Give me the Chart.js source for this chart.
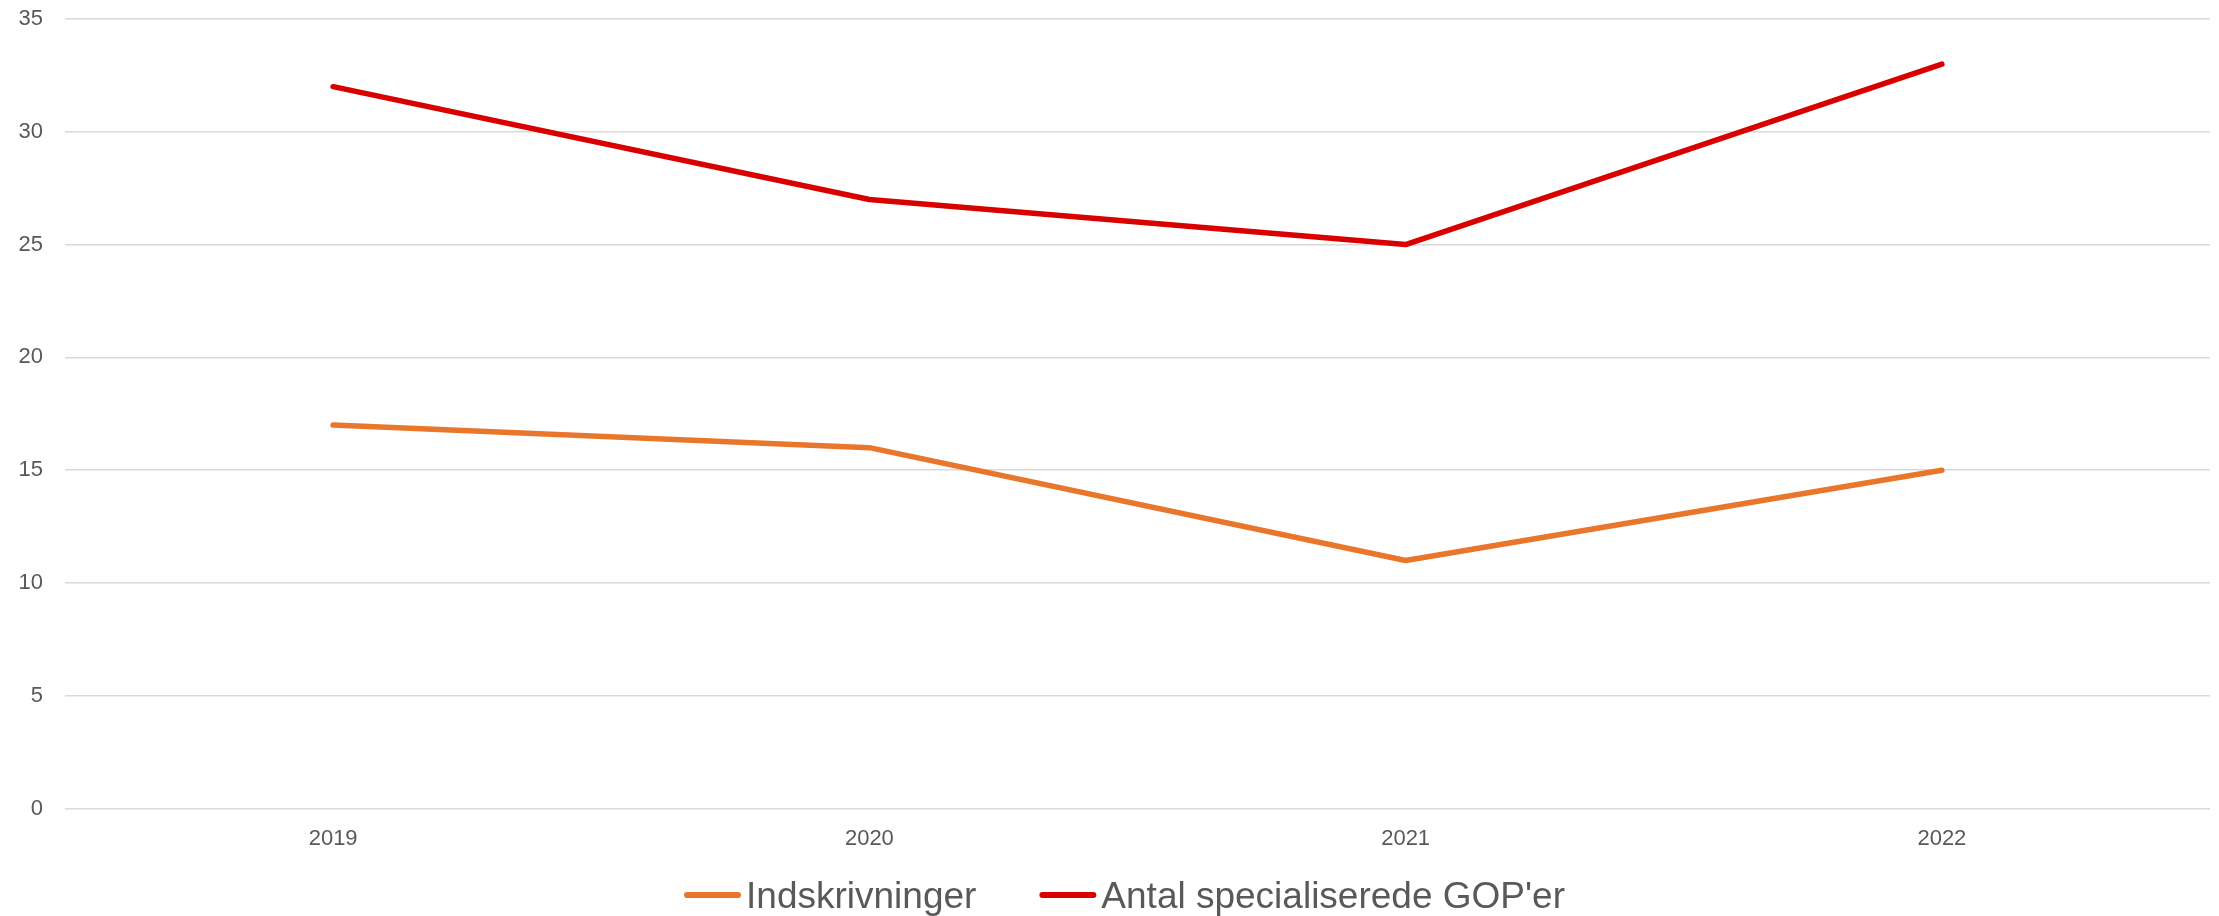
<!DOCTYPE html>
<html>
<head>
<meta charset="utf-8">
<title>Indskrivninger og specialiserede GOP'er</title>
<script src="https://cdn.jsdelivr.net/npm/chart.js@4.4.1/dist/chart.umd.min.js"></script>
<style>
  html, body { margin: 0; padding: 0; background: #ffffff; }
  #box { width: 2219px; height: 916px; }
</style>
</head>
<body>
<div id="box"><canvas id="lineChart" width="2219" height="916"></canvas></div>
<script>
var years = ['2019', '2020', '2021', '2022'];
var indskrivninger = [17, 16, 11, 15];
var gopEr = [32, 27, 25, 33];
var seriesNames = ['Indskrivninger', "Antal specialiserede GOP'er"];
var yTicks = [0, 5, 10, 15, 20, 25, 30, 35];

var textColor = '#595959';
var fontFamily = '"Liberation Sans", Arial, sans-serif';

// legend drawn under the plot: short line + label, like the original
var lineLegend = {
  id: 'lineLegend',
  afterDraw: function(chart) {
    var ctx = chart.ctx;
    var lineLen = 57, gap = 5, itemGap = 63, y = 895;
    ctx.save();
    ctx.font = '37px ' + fontFamily;
    var widths = chart.data.datasets.map(function(ds) {
      return lineLen + gap + ctx.measureText(ds.label).width;
    });
    var total = widths.reduce(function(a, b) { return a + b; }, 0) + itemGap * (widths.length - 1);
    var x = chart.width / 2 + 15 - total / 2;
    chart.data.datasets.forEach(function(ds, i) {
      ctx.strokeStyle = ds.borderColor;
      ctx.lineWidth = 6;
      ctx.lineCap = 'round';
      ctx.beginPath();
      ctx.moveTo(x + 3, y);
      ctx.lineTo(x + lineLen - 3, y);
      ctx.stroke();
      ctx.fillStyle = textColor;
      ctx.textBaseline = 'alphabetic';
      ctx.textAlign = 'left';
      ctx.fillText(ds.label, x + lineLen + gap, y + 13);
      x += widths[i] + itemGap;
    });
    ctx.restore();
  }
};

var ctx = document.getElementById('lineChart').getContext('2d');
var lineChart = new Chart(ctx, {
  type: 'line',
  data: {
    labels: years,
    datasets: [
      {
        label: seriesNames[0],
        data: indskrivninger,
        borderColor: '#E8762B',
        backgroundColor: '#E8762B',
        borderWidth: 5.5,
        pointRadius: 0,
        pointHoverRadius: 0,
        tension: 0,
        borderCapStyle: 'round',
        borderJoinStyle: 'round'
      },
      {
        label: seriesNames[1],
        data: gopEr,
        borderColor: '#D90000',
        backgroundColor: '#D90000',
        borderWidth: 5.5,
        pointRadius: 0,
        pointHoverRadius: 0,
        tension: 0,
        borderCapStyle: 'round',
        borderJoinStyle: 'round'
      }
    ]
  },
  options: {
    responsive: false,
    devicePixelRatio: 1,
    animation: false,
    layout: {
      padding: { left: 18, right: 9, top: 19, bottom: 47 }
    },
    plugins: {
      legend: { display: false },
      tooltip: { enabled: false }
    },
    scales: {
      x: {
        offset: true,
        grid: { display: false, drawTicks: false },
        border: { display: false },
        ticks: {
          color: textColor,
          padding: 17,
          font: { family: fontFamily, size: 22 }
        }
      },
      y: {
        min: 0,
        max: 35,
        afterBuildTicks: function(axis) {
          axis.ticks = yTicks.map(function(v) { return { value: v }; });
        },
        afterFit: function(axis) {
          axis.width = 47;
          axis.paddingTop = 0;
        },
        grid: { color: '#D9D9D9', lineWidth: 1.5, drawTicks: false },
        border: { display: false },
        ticks: {
          color: textColor,
          padding: 22,
          font: { family: fontFamily, size: 22 }
        }
      }
    }
  },
  plugins: [lineLegend]
});
</script>
</body>
</html>
